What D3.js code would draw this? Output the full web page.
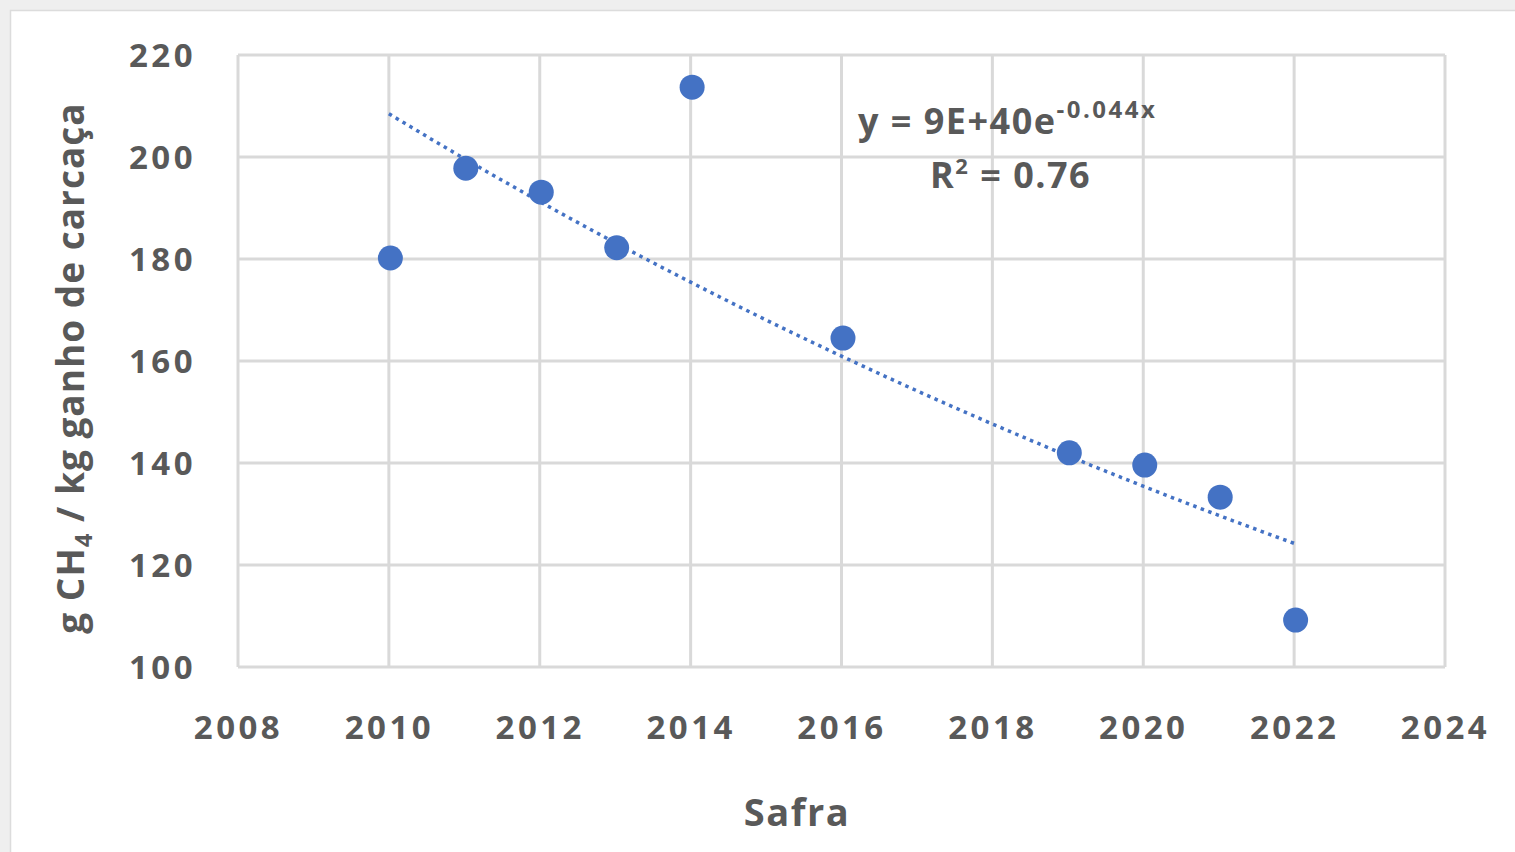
<!DOCTYPE html>
<html><head><meta charset="utf-8">
<script src="https://cdn.jsdelivr.net/npm/d3@7"></script>
<style>
html,body{margin:0;padding:0;background:#efefef;}
svg{display:block;}
text{font-family:"Open Sans",sans-serif;font-weight:700;fill:#595959;}
</style></head>
<body>
<svg id="chart" width="1515" height="852"></svg>
<script>
const years = [2010, 2011, 2012, 2013, 2014, 2016, 2019, 2020, 2021, 2022];
const values = [180.2, 197.8, 193.1, 182.2, 213.7, 164.5, 142.0, 139.6, 133.3, 109.2];
const xTicks = [2008, 2010, 2012, 2014, 2016, 2018, 2020, 2022, 2024];
const yTicks = [100, 120, 140, 160, 180, 200, 220];
const xTitle = "Safra";
const eqText = {pre: "y = 9E+40e", sup: "-0.044x"};
const r2Text = {pre: "R", sup: "2", post: " = 0.76"};

const svg = d3.select("#chart");
// card
svg.append("rect").attr("x", 10.5).attr("y", 10.5).attr("width", 1515).attr("height", 852)
  .attr("fill", "#fff").attr("stroke", "#dcdcdc").attr("stroke-width", 1.5);

const L = 238, R = 1445, T = 55, B = 667;
const x = d3.scaleLinear().domain([2008, 2024]).range([L, R]);
const y = d3.scaleLinear().domain([100, 220]).range([B, T]);

const grid = svg.append("g");
grid.selectAll("line.v").data(xTicks).join("line")
  .attr("x1", d => x(d)).attr("x2", d => x(d)).attr("y1", T).attr("y2", B)
  .attr("stroke", "#d9d9d9").attr("stroke-width", 3);
grid.selectAll("line.h").data(yTicks).join("line")
  .attr("y1", d => y(d)).attr("y2", d => y(d)).attr("x1", L).attr("x2", R)
  .attr("stroke", "#d9d9d9").attr("stroke-width", 3);

// axes (text only)
const xAxis = d3.axisBottom(x).tickValues(xTicks).tickFormat(d3.format("d")).tickSize(0).tickPadding(0);
const gx = svg.append("g").attr("transform", `translate(0,${B})`).call(xAxis);
gx.select(".domain").remove();
gx.selectAll("text").attr("font-size", 33).attr("letter-spacing", 3.5)
  .attr("font-family", '"Open Sans",sans-serif').attr("fill", "#595959")
  .attr("dy", null).attr("y", 72);

const yAxis = d3.axisLeft(y).tickValues(yTicks).tickSize(0).tickPadding(0);
const gy = svg.append("g").attr("transform", `translate(196,0)`).call(yAxis);
gy.select(".domain").remove();
gy.selectAll("text").attr("font-size", 33).attr("letter-spacing", 3.5)
  .attr("font-family", '"Open Sans",sans-serif').attr("fill", "#595959")
  .attr("dy", "0.36em").attr("x", 0);

// trendline: exponential fit (log-linear least squares)
const lx = years, ly = values.map(Math.log);
const mx = d3.mean(lx), my = d3.mean(ly);
const b = d3.sum(lx.map((v, i) => (v - mx) * (ly[i] - my))) / d3.sum(lx.map(v => (v - mx) ** 2));
const a = my - b * mx;
const xs = d3.range(d3.min(years), d3.max(years) + 0.001, 0.1);
const line = d3.line().x(d => x(d)).y(d => y(Math.exp(a + b * d)));
svg.append("path").datum(xs).attr("d", line).attr("fill", "none")
  .attr("stroke", "#4472c4").attr("stroke-width", 3.5).attr("stroke-dasharray", "3.5 4.5");

// points
svg.selectAll("circle.pt").data(years).join("circle")
  .attr("cx", d => x(d) + 1.5).attr("cy", (d, i) => y(values[i])).attr("r", 12.5)
  .attr("fill", "#4472c4");

// equation
const eq = svg.append("text").attr("x", 858).attr("y", 134).attr("font-size", 36).attr("letter-spacing", 1.5);
eq.append("tspan").text(eqText.pre);
eq.append("tspan").text(eqText.sup).attr("font-size", 24).attr("dy", -16).attr("letter-spacing", 2.5);
const r2 = svg.append("text").attr("x", 930).attr("y", 188).attr("font-size", 36).attr("letter-spacing", 1.5);
r2.append("tspan").text(r2Text.pre);
r2.append("tspan").text(r2Text.sup).attr("font-size", 22).attr("dy", -14);
r2.append("tspan").text(r2Text.post).attr("dy", 14);

// titles
svg.append("text").attr("x", 797).attr("y", 826).attr("text-anchor", "middle")
  .attr("font-size", 38).attr("letter-spacing", 1.5).text(xTitle);

const yt = svg.append("text").attr("transform", "translate(84,368) rotate(-90)")
  .attr("text-anchor", "middle").attr("font-size", 37).attr("letter-spacing", 1);
yt.append("tspan").text("g CH");
yt.append("tspan").text("4").attr("font-size", 24).attr("dy", 8);
yt.append("tspan").text(" / kg ganho de carcaça").attr("dy", -8);
</script>
</body></html>
